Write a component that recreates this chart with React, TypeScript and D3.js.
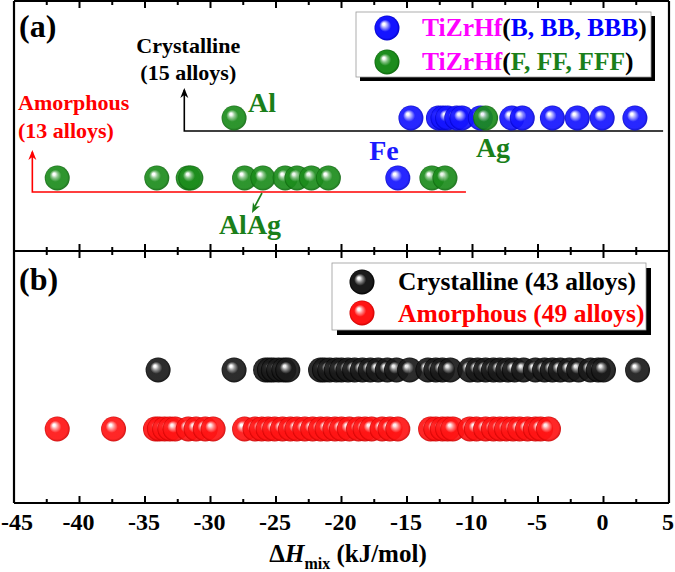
import * as d3 from "d3";
import { useEffect, useRef } from "react";

const W = 675;
const H = 572;

// (a) TiZrHf based alloys, ΔHmix in kJ/mol
const aAmorphGreen = [-41.7, -34.1, -31.7, -31.5, -27.4, -26.0, -24.3, -23.4, -22.3, -21.0, -13.1, -12.1];
const aAmorphBlue = [-15.7];
const aCrystBlue = [-14.7, -12.6, -12.25, -11.9, -11.2, -10.8, -9.4, -7.0, -6.2, -3.9, -2.0, -0.1, 2.4];
const aCrystGreen = [-28.2, -9.0];

// (b) all alloys
const bCrystalline = [
  -34.0, -28.2, -25.8, -25.5, -25.2, -24.8, -24.4, -24.1, -21.6, -21.3, -20.9, -20.4, -20.0, -19.5,
  -19.0, -18.4, -17.8, -17.2, -16.5, -15.8, -14.8, -13.4, -12.8, -12.3, -11.7, -10.2, -9.6, -9.0,
  -8.4, -7.9, -7.3, -6.8, -6.1, -5.2, -4.5, -3.9, -3.3, -2.6, -1.9, -1.0, -0.4, 0.0, 2.6,
];
const bAmorphous = [
  -41.7, -37.4, -34.2, -33.9, -33.5, -33.1, -32.7, -31.7, -31.1, -30.4, -29.8, -27.4, -26.6, -26.1,
  -25.6, -25.1, -24.5, -23.9, -23.4, -22.8, -22.2, -21.6, -21.1, -20.5, -20.0, -19.4, -18.7, -18.2,
  -17.7, -16.9, -16.3, -15.7, -13.2, -12.8, -12.3, -11.9, -11.5, -10.2, -9.7, -9.0, -8.4, -7.9,
  -7.4, -6.9, -6.4, -5.8, -5.2, -4.8, -4.2,
];

const xMajor = [-45, -40, -35, -30, -25, -20, -15, -10, -5, 0, 5];
const xMinor = [-42.5, -37.5, -32.5, -27.5, -22.5, -17.5, -12.5, -7.5, -2.5, 2.5];

const FONT = "'Liberation Serif', 'Times New Roman', serif";

const balls = {
  blue: ["#ffffff", "#9a9aff", "#1414ff", "#0000c8"],
  green: ["#ffffff", "#88c488", "#1c8c1c", "#0c640c"],
  red: ["#ffffff", "#ff9090", "#ff1414", "#cc0000"],
  black: ["#ffffff", "#8c8c8c", "#1a1a1a", "#000000"],
};

const App = () => {
  const ref = useRef(null);

  useEffect(() => {
    const svg = d3.select(ref.current);
    svg.selectAll("*").remove();

    const x = d3.scaleLinear().domain([-45, 5]).range([14, 669]);
    const left = 14, right = 669, top = 1, mid = 251, bottom = 503;
    const r = 12.5;

    // шарики
    const defs = svg.append("defs");
    Object.entries(balls).forEach(([name, c]) => {
      const g = defs.append("radialGradient")
        .attr("id", "ball-" + name)
        .attr("cx", "50%").attr("cy", "50%").attr("r", "50%")
        .attr("fx", "36%").attr("fy", "33%");
      g.append("stop").attr("offset", "0%").attr("stop-color", c[0]);
      g.append("stop").attr("offset", "9%").attr("stop-color", c[0]);
      g.append("stop").attr("offset", "26%").attr("stop-color", c[1]);
      g.append("stop").attr("offset", "48%").attr("stop-color", c[2]);
      g.append("stop").attr("offset", "85%").attr("stop-color", c[2]);
      g.append("stop").attr("offset", "100%").attr("stop-color", c[3]);
    });

    const drawBalls = (vals, cy, color) => {
      svg.append("g").selectAll("circle")
        .data(vals)
        .enter()
        .append("circle")
        .attr("cx", d => x(d))
        .attr("cy", cy)
        .attr("r", r)
        .attr("fill", `url(#ball-${color})`)
        .attr("opacity", 0.92);
    };

    const txt = (s, tx, ty, size, color, anchor = "start") =>
      svg.append("text")
        .attr("x", tx).attr("y", ty)
        .attr("font-family", FONT)
        .attr("font-weight", "bold")
        .attr("font-size", size)
        .attr("fill", color)
        .attr("text-anchor", anchor)
        .text(s);

    const arrowHead = (tx, ty, angle, color) => {
      svg.append("path")
        .attr("d", "M0,0 L-4,10 L0,7 L4,10 Z")
        .attr("transform", `translate(${tx},${ty}) rotate(${angle})`)
        .attr("fill", color);
    };

    // ---------- panel (a) ----------
    const yCryst = 131, yAmorph = 192;

    // crystalline bracket
    svg.append("path")
      .attr("d", `M${x(-32)},${90} V${yCryst} H${x(4.55)}`)
      .attr("fill", "none").attr("stroke", "#000").attr("stroke-width", 1.6);
    arrowHead(x(-32), 88, 0, "#000");
    txt("Crystalline", x(-32) + 4, 53, 22, "#000", "middle");
    txt("(15 alloys)", x(-32) + 4, 80, 22, "#000", "middle");

    // amorphous bracket
    svg.append("path")
      .attr("d", `M${x(-43.6)},${152} V${yAmorph} H${x(-10.5)}`)
      .attr("fill", "none").attr("stroke", "#ff0000").attr("stroke-width", 1.6);
    arrowHead(x(-43.6), 150, 0, "#ff0000");
    txt("Amorphous", 18, 110, 22, "#ff0000");
    txt("(13 alloys)", 18, 138, 22, "#ff0000");

    drawBalls(aCrystBlue, yCryst - 13, "blue");
    drawBalls(aCrystGreen, yCryst - 13, "green");
    drawBalls(aAmorphBlue, yAmorph - 14, "blue");
    drawBalls(aAmorphGreen, yAmorph - 14, "green");

    txt("Al", 248, 112, 28, "#1a7f1a");
    txt("Fe", 384, 160, 28, "#1a1aff", "middle");
    txt("Ag", 493, 157, 28, "#1a7f1a", "middle");
    txt("AlAg", 250, 234, 28, "#1a7f1a", "middle");
    svg.append("line")
      .attr("x1", 262).attr("y1", 193).attr("x2", 254).attr("y2", 208)
      .attr("stroke", "#1a7f1a").attr("stroke-width", 1.6);
    arrowHead(252, 213, 207, "#1a7f1a");

    txt("(a)", 19, 37, 32, "#000");

    // legend (a)
    svg.append("rect").attr("x", 360).attr("y", 16).attr("width", 295).attr("height", 65).attr("fill", "#000");
    svg.append("rect").attr("x", 356).attr("y", 12).attr("width", 295).attr("height", 65)
      .attr("fill", "#fff").attr("stroke", "#999").attr("stroke-width", 0.8);
    [["blue", "B, BB, BBB", "#0000ff", 28], ["green", "F, FF, FFF", "#1a7f1a", 62]].forEach(([c, s, col, ly]) => {
      svg.append("circle").attr("cx", 387).attr("cy", ly).attr("r", r).attr("fill", `url(#ball-${c})`);
      const t = txt("", 422, ly + 8, 25.5, "#000");
      t.append("tspan").attr("fill", "#ff00ff").text("TiZrHf");
      t.append("tspan").attr("fill", "#000").text("(");
      t.append("tspan").attr("fill", col).text(s);
      t.append("tspan").attr("fill", "#000").text(")");
    });

    // ---------- panel (b) ----------
    const yb = d3.scalePoint().domain(["Crystalline", "Amorphous"]).range([370, 429]);
    drawBalls(bCrystalline, yb("Crystalline"), "black");
    drawBalls(bAmorphous, yb("Amorphous"), "red");

    txt("(b)", 19, 290, 32, "#000");

    svg.append("rect").attr("x", 337).attr("y", 268).attr("width", 314).attr("height", 67).attr("fill", "#000");
    svg.append("rect").attr("x", 332).attr("y", 263).attr("width", 314).attr("height", 67)
      .attr("fill", "#fff").attr("stroke", "#999").attr("stroke-width", 0.8);
    svg.append("circle").attr("cx", 362).attr("cy", 282).attr("r", r).attr("fill", "url(#ball-black)");
    svg.append("circle").attr("cx", 362).attr("cy", 313).attr("r", r).attr("fill", "url(#ball-red)");
    txt("Crystalline (43 alloys)", 398, 290, 25.5, "#000");
    txt("Amorphous (49 alloys)", 398, 322, 25.5, "#ff0000");

    // ---------- frame & ticks ----------
    [top, mid, bottom].forEach(yy => {
      svg.append("line").attr("x1", left).attr("x2", right).attr("y1", yy).attr("y2", yy)
        .attr("stroke", "#000").attr("stroke-width", 2.2);
    });
    [left, right].forEach(xx => {
      svg.append("line").attr("x1", xx).attr("x2", xx).attr("y1", top).attr("y2", bottom)
        .attr("stroke", "#000").attr("stroke-width", 2.2);
    });
    const edges = [[top, 1], [mid, -1], [mid, 1], [bottom, -1]];
    edges.forEach(([yy, dir]) => {
      svg.append("g").selectAll("line.maj").data(xMajor.slice(1, -1)).enter().append("line")
        .attr("x1", d => x(d)).attr("x2", d => x(d))
        .attr("y1", yy).attr("y2", yy + dir * 7)
        .attr("stroke", "#000").attr("stroke-width", 2);
      svg.append("g").selectAll("line.min").data(xMinor).enter().append("line")
        .attr("x1", d => x(d)).attr("x2", d => x(d))
        .attr("y1", yy).attr("y2", yy + dir * 4)
        .attr("stroke", "#000").attr("stroke-width", 2);
    });

    // первая и последняя подписи прижаты к краям окна
    svg.append("g").selectAll("text").data(xMajor).enter().append("text")
      .attr("x", (d, i) => (i === 0 ? 1 : i === xMajor.length - 1 ? 674 : x(d) - 1))
      .attr("y", 530)
      .attr("text-anchor", (d, i) => (i === 0 ? "start" : i === xMajor.length - 1 ? "end" : "middle"))
      .attr("font-family", FONT).attr("font-weight", "bold").attr("font-size", 24)
      .text(d => d);

    const title = svg.append("text")
      .attr("x", 348).attr("y", 562)
      .attr("text-anchor", "middle")
      .attr("font-family", FONT).attr("font-weight", "bold").attr("font-size", 25);
    title.append("tspan").text("Δ");
    title.append("tspan").attr("font-style", "italic").text("H");
    title.append("tspan").attr("font-size", 16).attr("dy", 7).text("mix");
    title.append("tspan").attr("dy", -7).text(" (kJ/mol)");
  }, []);

  return (
    <svg ref={ref} width={W} height={H}
      style={{ position: "absolute", left: 0, top: 0, background: "#fff" }} />
  );
};

export default App;
